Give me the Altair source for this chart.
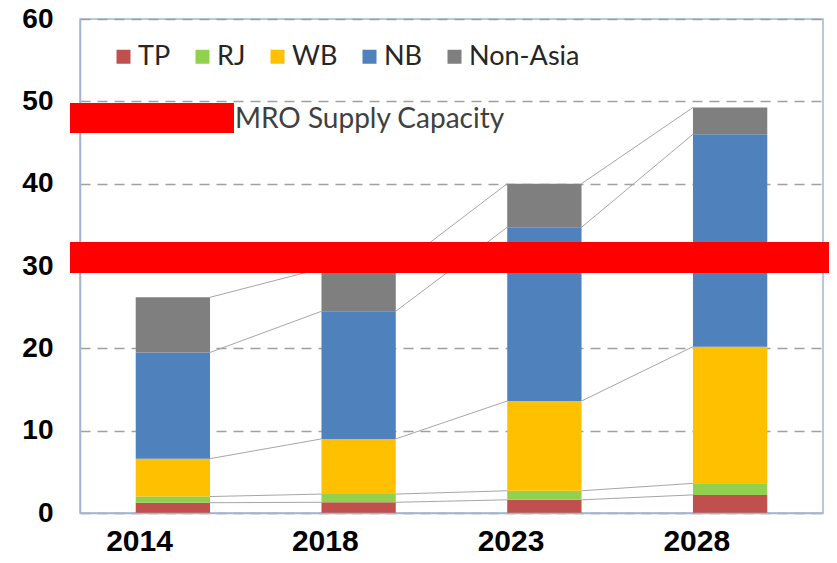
import altair as alt
import pandas as pd

years = ["2014", "2018", "2023", "2028"]
series = ["TP", "RJ", "WB", "NB", "Non-Asia"]
tp = [1.25, 1.3, 1.6, 2.2]
rj = [0.75, 1.0, 1.1, 1.4]
wb = [4.6, 6.7, 10.9, 16.6]
nb = [12.9, 15.5, 21.1, 25.8]
non_asia = [6.7, 5.2, 5.3, 3.25]
colors = ["#c0504d", "#92d050", "#ffc000", "#4f81bd", "#7f7f7f"]
y_ticks = [0, 10, 20, 30, 40, 50, 60]
annotation = "MRO Supply Capacity"

values = dict(zip(series, [tp, rj, wb, nb, non_asia]))
rows = []
for i, yr in enumerate(years):
    lo = 0.0
    for k, s in enumerate(series):
        hi = lo + values[s][i]
        rows.append(dict(year=yr, series=s, lo=lo, hi=hi, order=k))
        lo = hi
bars_df = pd.DataFrame(rows)

conn = []
for i in range(len(years) - 1):
    a = bars_df[bars_df.year == years[i]].set_index("series")
    b = bars_df[bars_df.year == years[i + 1]].set_index("series")
    for s in series:
        conn.append(dict(year=years[i], nxt=years[i + 1], series=s,
                         y_from=a.loc[s, "hi"], y_to=b.loc[s, "hi"]))
conn_df = pd.DataFrame(conn)

BORDER = "#a4b6cf"

xscale = alt.Scale(domain=years, paddingInner=0.6, paddingOuter=0.3)
yscale = alt.Scale(domain=[0, 60], nice=False)

bars = alt.Chart(bars_df).mark_bar().encode(
    x=alt.X("year:N", scale=xscale, sort=years,
            axis=alt.Axis(title=None, labelAngle=0, ticks=False, domainColor=BORDER,
                          domainWidth=1.5, labelFont="Liberation Sans", labelFontWeight="bold",
                          labelFontSize=30, labelColor="#000000", labelPadding=28, zindex=1)),
    y=alt.Y("lo:Q", scale=yscale,
            axis=alt.Axis(title=None, values=y_ticks, ticks=False, domainColor=BORDER,
                          domainWidth=1.5, grid=True, gridDash=[10, 7], gridColor="#a0a0a0",
                          gridWidth=1.3, labelFont="Liberation Sans", labelFontWeight="bold",
                          labelFontSize=28, labelColor="#000000", labelPadding=27)),
    y2="hi:Q",
    color=alt.Color("series:N", scale=alt.Scale(domain=series, range=colors),
                    legend=alt.Legend(title=None, orient="none", legendX=30, legendY=24,
                                      direction="horizontal", columns=5, symbolType="square",
                                      symbolSize=196, symbolStrokeWidth=0, labelFont="Lato",
                                      labelFontSize=27, labelColor="#262626", labelOffset=1,
                                      columnPadding=18, padding=0)),
    order="order:Q",
)

connectors = alt.Chart(conn_df).mark_rule(color="#a6a6a6", strokeWidth=1).encode(
    x=alt.X("year:N", bandPosition=1, scale=xscale, sort=years),
    x2=alt.X2("nxt", bandPosition=0),
    y=alt.Y("y_from:Q", scale=yscale),
    y2="y_to:Q",
)

text = alt.Chart(pd.DataFrame({"t": [annotation]})).mark_text(
    align="left", baseline="alphabetic", font="Lato", fontSize=28, color="#404040"
).encode(x=alt.value(155), y=alt.value(109), text="t:N")

red1 = alt.Chart(pd.DataFrame({"k": [0]})).mark_rect(color="#ff0000").encode(
    x=alt.value(-10), x2=alt.value(154), y=alt.value(84), y2=alt.value(114))
red2 = alt.Chart(pd.DataFrame({"k": [0]})).mark_rect(color="#ff0000").encode(
    x=alt.value(-10), x2=alt.value(760), y=alt.value(223), y2=alt.value(254))

chart = alt.layer(connectors, bars, text, red1, red2).properties(
    width=743, height=494,
    autosize=alt.AutoSizeParams(type="none"),
    padding={"left": 72, "top": 11, "right": 6, "bottom": 42},
).configure_view(stroke=BORDER, strokeWidth=1.5)

chart.save("out.html", embed_options={"renderer": "svg", "actions": False})
